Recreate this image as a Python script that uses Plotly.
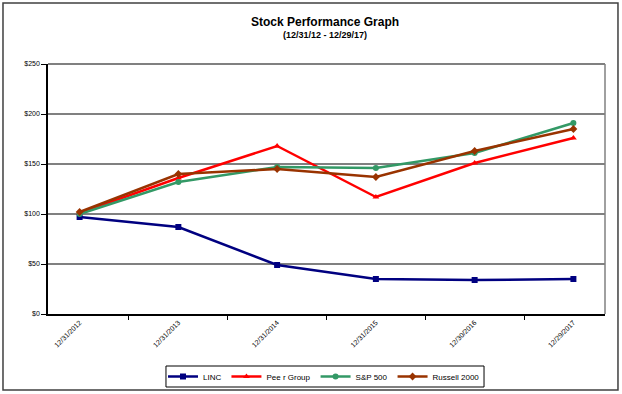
import plotly.graph_objects as go

dates = ["12/31/2012", "12/31/2013", "12/31/2014", "12/31/2015", "12/30/2016", "12/29/2017"]
linc = [97, 87, 49, 35, 34, 35]
peer = [101, 136, 168, 117, 151, 176]
sp500 = [100, 132, 147, 146, 161, 191]
russell = [102, 140, 145, 137, 163, 185]
y_ticks = [0, 50, 100, 150, 200, 250]
y_tick_labels = ["$0", "$50", "$100", "$150", "$200", "$250"]

series = [
    ("LINC", linc, "#000080", "square"),
    ("Pee r Group", peer, "#FF0000", "triangle-up"),
    ("S&P 500", sp500, "#339966", "circle"),
    ("Russell 2000", russell, "#993300", "diamond"),
]

fig = go.Figure()
for name, vals, color, sym in series:
    fig.add_trace(go.Scatter(
        x=dates, y=vals, name=name, mode="lines+markers",
        line=dict(color=color, width=2.5),
        marker=dict(symbol=sym, size=6, color=color),
    ))

fig.update_layout(
    width=622, height=394,
    margin=dict(l=48, r=17, t=64, b=80, autoexpand=False),
    paper_bgcolor="white", plot_bgcolor="white",
    font=dict(family="Liberation Sans, Arial, sans-serif", color="black"),
    showlegend=True,
    legend=dict(
        orientation="h", x=0.4955, xanchor="center", y=-0.25, yanchor="middle",
        borderwidth=0, bgcolor="rgba(0,0,0,0)",
        font=dict(size=8), itemwidth=30, tracegroupgap=0,
    ),
    annotations=[
        dict(text="<b>Stock Performance Graph</b>", xref="paper", yref="paper",
             x=0.497, y=1.168, xanchor="center", yanchor="middle",
             showarrow=False, font=dict(size=12)),
        dict(text="<b>(12/31/12 - 12/29/17)</b>", xref="paper", yref="paper",
             x=0.497, y=1.116, xanchor="center", yanchor="middle",
             showarrow=False, font=dict(size=9)),
    ],
    shapes=[
        dict(type="rect", xref="paper", yref="paper",
             x0=-0.0808, x1=1.0233, y0=-0.304, y1=1.244,
             line=dict(color="#404040", width=1.5), layer="below"),
        dict(type="rect", xref="paper", yref="paper",
             x0=0.2118, x1=0.7828, y0=-0.292, y1=-0.208,
             line=dict(color="black", width=1), layer="below"),
        dict(type="line", xref="paper", yref="paper",
             x0=1, x1=1, y0=0, y1=1,
             line=dict(color="#a0a0a0", width=2), layer="below"),
        dict(type="line", xref="paper", yref="paper",
             x0=0, x1=1, y0=1, y1=1,
             line=dict(color="#808080", width=2), layer="below"),
    ],
)

fig.update_xaxes(
    type="category", tickson="boundaries", automargin=False,
    showline=True, linecolor="black", linewidth=1.5,
    ticks="outside", ticklen=4, tickcolor="black",
    tickangle=-45, tickfont=dict(size=7),
    showgrid=False, zeroline=False,
)
fig.update_yaxes(
    range=[0, 250], tickvals=y_ticks, ticktext=y_tick_labels, automargin=False,
    showline=True, linecolor="black", linewidth=1.5,
    ticks="outside", ticklen=5, tickcolor="black",
    tickfont=dict(size=7),
    showgrid=True, gridcolor="#808080", gridwidth=2,
    zeroline=False,
)

fig.write_html("out.html", config={"displayModeBar": False},
               post_script="document.body.style.margin='0';")
